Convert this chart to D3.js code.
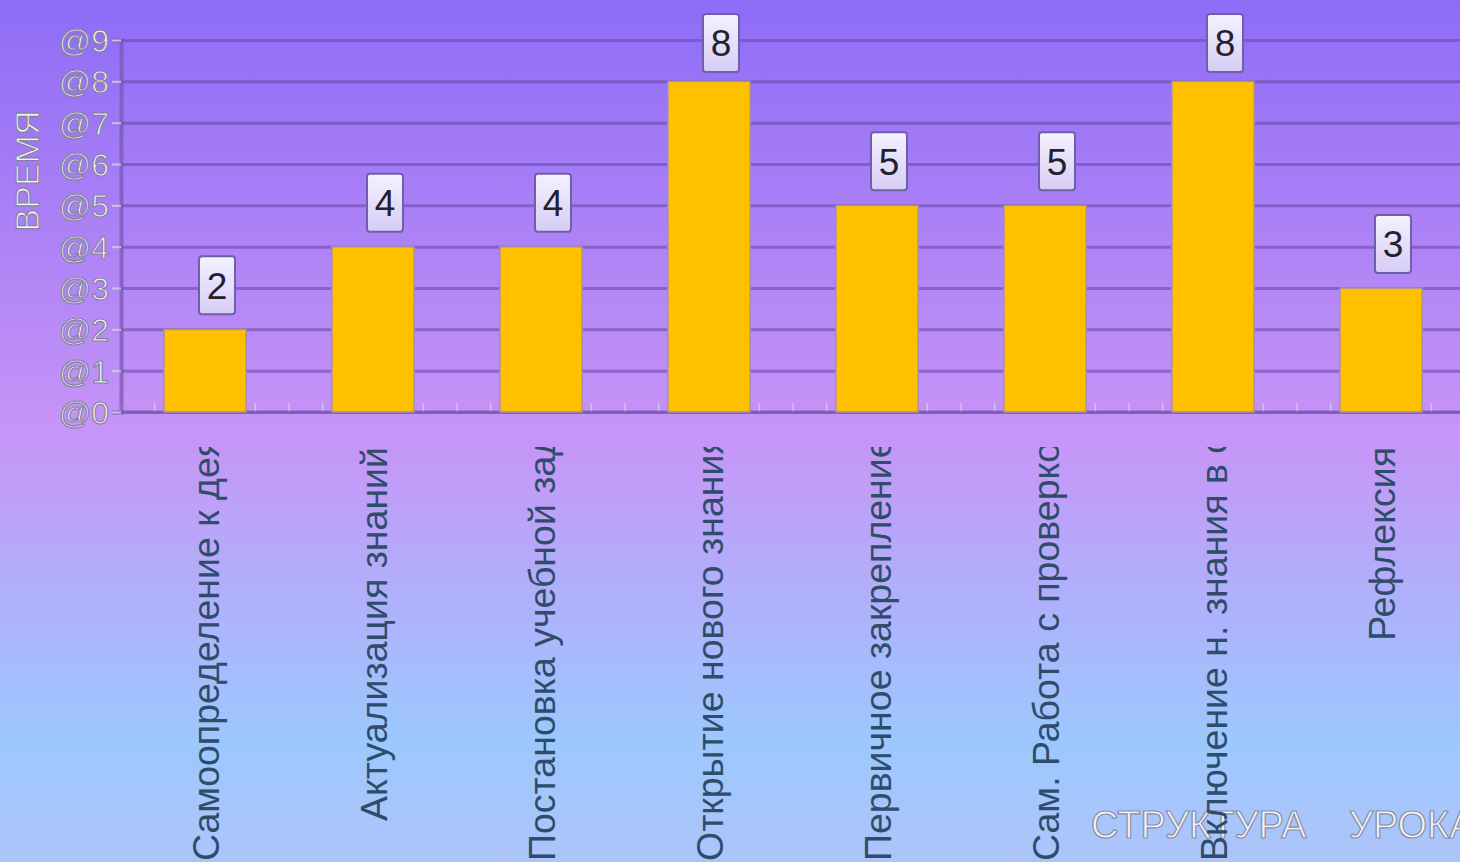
<!DOCTYPE html>
<html>
<head>
<meta charset="utf-8">
<script src="https://cdn.jsdelivr.net/npm/d3@7"></script>
<style>
  html, body { margin: 0; padding: 0; overflow: hidden; }
  svg { display: block; font-family: "Liberation Sans", Arial, sans-serif; }
</style>
</head>
<body>
<div id="chart"></div>
<script>
const categories = ['Самоопределение к деятельности', 'Актуализация знаний', 'Постановка учебной задачи',
  'Открытие нового знания', 'Первичное закрепление', 'Сам. Работа с проверкой по эталону',
  'Включение н. знания в систему', 'Рефлексия']
const values = [2, 4, 4, 8, 5, 5, 8, 3]
const yTicks = [0, 1, 2, 3, 4, 5, 6, 7, 8, 9]
const yTitle = 'ВРЕМЯ'
const chartTitle = 'СТРУКТУРА    УРОКА'

const W = 1460, H = 862
const svg = d3.select('#chart').append('svg')
  .attr('width', W)
  .attr('height', H)

const defs = svg.append('defs')
const bg = defs.append('linearGradient').attr('id', 'bg')
  .attr('x1', 0).attr('y1', 0).attr('x2', 0).attr('y2', 1)
bg.append('stop').attr('offset', '0%').attr('stop-color', '#8e6cf6')
bg.append('stop').attr('offset', '50%').attr('stop-color', '#c794f7')
bg.append('stop').attr('offset', '86%').attr('stop-color', '#9cc8fe')
bg.append('stop').attr('offset', '100%').attr('stop-color', '#adc4fa')

const box = defs.append('linearGradient').attr('id', 'box')
  .attr('x1', 0).attr('y1', 0).attr('x2', 0).attr('y2', 1)
box.append('stop').attr('offset', '0%').attr('stop-color', '#f4f2ff')
box.append('stop').attr('offset', '100%').attr('stop-color', '#d6ccf6')

const labTop = 447
defs.append('clipPath').attr('id', 'labclip')
  .append('rect').attr('x', 0).attr('y', labTop).attr('width', W).attr('height', H - labTop)

svg.append('rect').attr('width', W).attr('height', H).attr('fill', 'url(#bg)')

const x = d3.scaleBand()
  .domain(categories)
  .range([121, 121 + 168 * categories.length])
  .paddingInner(0.51)
  .paddingOuter(0.255)

const y = d3.scaleLinear()
  .domain([0, 9])
  .range([412, 40])

// gridlines
svg.append('g')
  .attr('transform', 'translate(121,0)')
  .call(d3.axisLeft(y).tickValues(yTicks).tickSize(-(W - 121)).tickFormat(''))
  .call(g => g.select('.domain').remove())
  .selectAll('line')
  .attr('stroke', 'rgba(105,75,170,0.6)')
  .attr('stroke-width', 3)

// minor ticks on x axis
const minor = d3.range(0, categories.length * 5 + 1).map(i => 121 + i * 168 / 5)
svg.append('g').selectAll('line')
  .data(minor)
  .enter()
  .append('line')
  .attr('x1', d => d).attr('x2', d => d)
  .attr('y1', y(0)).attr('y2', y(0) - 9)
  .attr('stroke', '#cfc6e6')
  .attr('stroke-width', 1.5)

// y axis line + ticks
const yAxis = svg.append('g')
  .attr('transform', 'translate(121,0)')
  .call(d3.axisLeft(y).tickValues(yTicks).tickSize(9).tickPadding(3).tickFormat(d => '@' + d))
yAxis.select('.domain')
  .attr('stroke', 'rgba(120,90,180,0.75)')
  .attr('stroke-width', 4)
yAxis.selectAll('.tick line')
  .attr('stroke', '#c9c2dc')
  .attr('stroke-width', 2)
yAxis.selectAll('.tick text')
  .attr('font-size', 32)
  .attr('font-family', '"Liberation Sans", Arial, sans-serif')
  .attr('fill', '#f2f1fa')
  .attr('stroke', '#86829e')
  .attr('stroke-width', 1.2)
  .attr('dy', '0.36em')

// x baseline
svg.append('line')
  .attr('x1', 121).attr('x2', W)
  .attr('y1', y(0)).attr('y2', y(0))
  .attr('stroke', 'rgba(120,90,180,0.75)')
  .attr('stroke-width', 3)

// bars
svg.append('g').selectAll('rect')
  .data(values)
  .enter()
  .append('rect')
  .attr('x', (d, i) => x(categories[i]))
  .attr('y', d => y(d))
  .attr('width', x.bandwidth())
  .attr('height', d => y(0) - y(d))
  .attr('fill', '#ffc000')
  .attr('stroke', '#a48cb4')
  .attr('stroke-width', 1.5)

// value labels (boxes sit a bit right of the bar centre, kept inside the top)
const vl = svg.append('g').selectAll('g')
  .data(values)
  .enter()
  .append('g')
  .attr('transform', (d, i) => `translate(${x(categories[i]) + x.bandwidth() / 2 + 12},${Math.max(y(d) - 44, 43)})`)
vl.append('rect')
  .attr('x', -18).attr('y', -29)
  .attr('width', 36).attr('height', 58)
  .attr('rx', 3)
  .attr('fill', 'url(#box)')
  .attr('stroke', '#6e60a8')
  .attr('stroke-width', 2)
vl.append('text')
  .attr('x', 0).attr('y', 0)
  .attr('dy', '0.36em')
  .attr('text-anchor', 'middle')
  .attr('font-size', 37)
  .attr('fill', '#23222c')
  .text(d => d)

// y title
svg.append('text')
  .attr('transform', 'translate(27,171) rotate(-90)')
  .attr('text-anchor', 'middle')
  .attr('dy', '0.36em')
  .attr('font-size', 34)
  .attr('fill', '#f2f1fa')
  .attr('stroke', '#86829e')
  .attr('stroke-width', 1.2)
  .text(yTitle)

// chart title
svg.append('text')
  .attr('x', 1091)
  .attr('y', 838)
  .style('white-space', 'pre')
  .attr('font-size', 38)
  .attr('fill', '#f2f3fa')
  .attr('stroke', '#8a8ea6')
  .attr('stroke-width', 1.2)
  .text(chartTitle)

// category labels: short ones hang from the top, long ones start at the bottom and get cut
const labs = svg.append('g').attr('clip-path', 'url(#labclip)')
categories.forEach(function(c) {
  const cx = x(c) + x.bandwidth() / 2
  const t = labs.append('text')
    .attr('font-size', 37.5)
    .attr('fill', '#2f4c6a')
    .attr('dy', '0.36em')
    .text(c)
  const len = t.node().getComputedTextLength()
  if (len <= H - labTop - 1) {
    t.attr('text-anchor', 'end').attr('transform', `translate(${cx},${labTop}) rotate(-90)`)
  } else {
    t.attr('text-anchor', 'start').attr('transform', `translate(${cx},861) rotate(-90)`)
  }
})
</script>
</body>
</html>
